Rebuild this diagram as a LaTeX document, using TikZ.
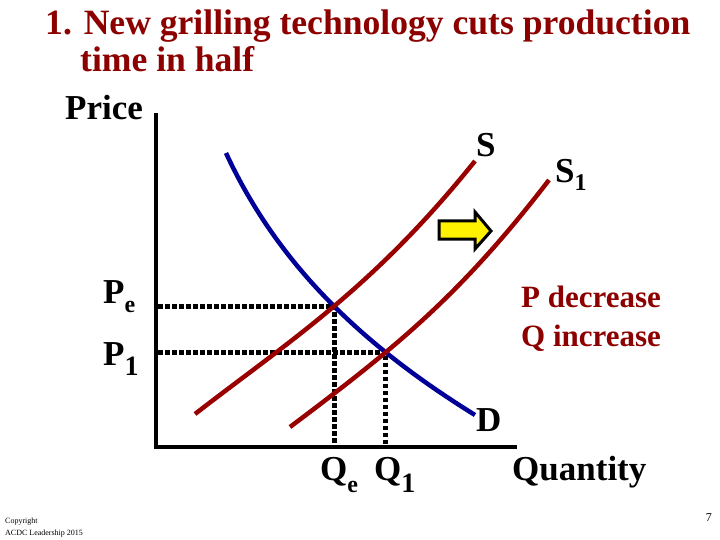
\documentclass[tikz,border=0pt]{standalone}
\usepackage{fontspec}
\setmainfont{Liberation Serif}
\usetikzlibrary{intersections}
\definecolor{titlered}{RGB}{140,0,0}
\definecolor{curvered}{RGB}{153,0,0}
\definecolor{demblue}{RGB}{0,0,153}
\newcommand{\fs}[1]{\fontsize{#1}{#1}\selectfont}
\newcommand{\lowsub}[3]{\raisebox{-#2pt}{\fs{#1}#3}}
\begin{document}
\begin{tikzpicture}[x=1pt,y=-1pt,
  lbl/.style={anchor=base west, inner sep=0pt, font=\fs{35}\bfseries},
  ttl/.style={anchor=base west, inner sep=0pt, font=\fs{35.6}\bfseries, text=titlered},
  note/.style={anchor=base west, inner sep=0pt, font=\fs{31}\bfseries, text=titlered},
  axis/.style={line width=4.5pt, black},
  supply/.style={line width=4.5pt, curvered},
  demand/.style={line width=4.5pt, demblue},
  guide/.style={line width=5pt, black, dash pattern=on 4.5pt off 2.5pt}]
\useasboundingbox (0,0) rectangle (720,540);
% titles
\node[ttl] (t1) at (45,35) {1. New grilling technology cuts production};
\node[ttl] (t2) at (80,72) {time in half};
\node[lbl] (price) at (65,120) {Price};
% axes
\coordinate (origin) at (156,447);
\coordinate (ytop) at (156,115);
\coordinate (xend) at (515,447);
% curves (paths named for the crossings)
\path[name path=dem] (226,153) .. controls (280,270) and (370,350) .. (475,415);
\path[name path=sup] (195,414) .. controls (292,339) and (373,288) .. (475,161);
\path[name path=supone] (290,427) .. controls (395,348) and (459,297) .. (549,180);
\path[name intersections={of=dem and sup, by=E}];
\path[name intersections={of=dem and supone, by=E1}];
% guides
\draw[guide] (158,0 |- E) -- (E) -- (E |- 0,445);
\draw[guide] (158,0 |- E1) -- (E1) -- (E1 |- 0,445);
\draw[axis, line cap=rect] (ytop) -- (origin) -- (xend);
\draw[demand] (226,153) .. controls (280,270) and (370,350) .. (475,415);
\draw[supply] (195,414) .. controls (292,339) and (373,288) .. (475,161);
\draw[supply] (290,427) .. controls (395,348) and (459,297) .. (549,180);
% shift arrow
\draw[fill=yellow, line width=3pt] (439,221) -- (475,221) -- (475,212) -- (491,231) -- (475,249) -- (475,239) -- (439,239) -- cycle;
% labels
\node[lbl] (S) at (476,157) {S};
\node[lbl] (S1) at (555,183) {S\lowsub{24}{8}{1}};
\node[lbl] (D) at (476,431) {D};
\node[lbl] (Pe) at (103,303) {P\lowsub{24}{9}{e}};
\node[lbl] (P1) at (103,365) {P\lowsub{28}{10}{1}};
\node[lbl] (Qe) at (320,480) {Q\lowsub{24}{12}{e}};
\node[lbl] (Q1) at (374,480) {Q\lowsub{28}{12}{1}};
\node[lbl] (qty) at (512,480) {Quantity};
\node[note] (pdec) at (521,307) {P decrease};
\node[note] (qinc) at (521,346) {Q increase};
\node[anchor=base west, inner sep=0pt, font=\fs{8}] (c1) at (5,523) {Copyright};
\node[anchor=base west, inner sep=0pt, font=\fs{8}] (c2) at (5,535) {ACDC Leadership 2015};
\node[anchor=base east, inner sep=0pt, font=\fs{12}] (pg) at (712,521) {7};
\end{tikzpicture}
\end{document}
